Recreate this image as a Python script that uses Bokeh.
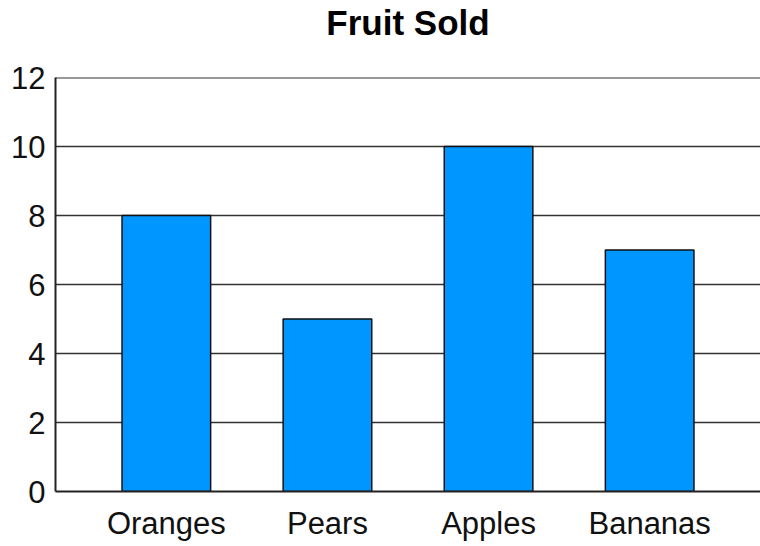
from bokeh.plotting import figure
from bokeh.models import FactorRange, Range1d, FixedTicker, ColumnDataSource, Span, Title
from bokeh.embed import file_html
from bokeh.resources import INLINE

# Fruit sales counts
fruits = ["Oranges", "Pears", "Apples", "Bananas"]
sold = [8, 5, 10, 7]
y_ticks = [0, 2, 4, 6, 8, 10, 12]
chart_title = "Fruit Sold"

source = ColumnDataSource(data=dict(fruit=fruits, sold=sold))

p = figure(
    width=760, height=546,
    x_range=FactorRange(*fruits, range_padding=0.094),
    y_range=Range1d(0, max(y_ticks)),
    output_backend="svg",
    toolbar_location=None,
    min_border_left=55, min_border_right=0,
    min_border_bottom=55, min_border_top=77,
)

p.vbar(x="fruit", top="sold", width=0.55, source=source,
       fill_color="#0096FF", line_color="#111111", line_width=1.5)

# top gridline at the upper end of the value axis
p.add_layout(Span(location=max(y_ticks), dimension="width",
                  line_color="#333333", line_width=2, level="underlay"))

font = "Liberation Sans"

# blank band between the plot area and the title
p.add_layout(Title(text=" ", text_font_size="10px", standoff=21), "above")
# chart title, pushed to the top of the canvas
p.add_layout(Title(text=chart_title, text_font=font, text_font_size="35px",
                   text_font_style="bold", text_color="#000000",
                   align="center", vertical_align="top", standoff=0), "above")

p.yaxis.ticker = FixedTicker(ticks=y_ticks)
for ax in (p.xaxis[0], p.yaxis[0]):
    ax.major_label_text_font = font
    ax.major_label_text_font_size = "31px"
    ax.major_label_text_color = "#111111"
    ax.axis_line_color = "#222222"
    ax.axis_line_width = 2
    ax.major_tick_line_color = None
    ax.minor_tick_line_color = None
    ax.major_tick_out = 0
    ax.major_tick_in = 0
p.xaxis.major_label_standoff = 14
p.yaxis.major_label_standoff = 10

p.xgrid.grid_line_color = None
p.ygrid.grid_line_color = "#333333"
p.ygrid.grid_line_width = 1.6
p.outline_line_color = None
p.background_fill_color = "white"
p.border_fill_color = "white"

open("out.html", "w").write(file_html(p, INLINE))
